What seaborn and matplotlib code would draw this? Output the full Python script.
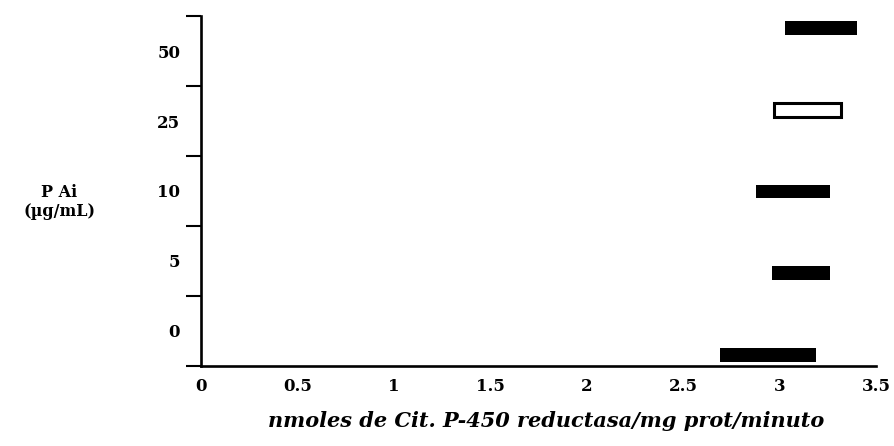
import numpy as np
import pandas as pd
import matplotlib
matplotlib.use("Agg")
import matplotlib.pyplot as plt
from matplotlib.ticker import MultipleLocator, FixedLocator
import seaborn as sns

# ---- data ----
doses = ["0", "5", "10", "25", "50"]          # P Ai (µg/mL)
range_start = [2.69, 2.96, 2.88, 2.97, 3.03]   # nmoles/mg prot/min
range_end = [3.19, 3.26, 3.26, 3.32, 3.40]
x_ticks = [0, 0.5, 1, 1.5, 2, 2.5, 3, 3.5]
x_tick_labels = ["0", "0.5", "1", "1.5", "2", "2.5", "3", "3.5"]
open_bar = "25"

df = pd.DataFrame({"dose": doses, "start": range_start, "end": range_end})
df["span"] = df["end"] - df["start"]

sns.set_style("white")
plt.rcParams["font.family"] = ["DejaVu Serif"]
plt.rcParams["font.weight"] = "bold"
for k in ["text.color", "axes.labelcolor", "xtick.color", "ytick.color"]:
    plt.rcParams[k] = "black"

fig = plt.figure(figsize=(8.94, 4.46), dpi=100)
ax = fig.add_axes([0.2248, 0.1794, 0.7551, 0.7847])

# label axis: five equal slots, labels at slot centres, ticks at slot boundaries
ax.set_ylim(0, 5)
ax.set_xlim(0, 3.5)
ax.yaxis.set_major_locator(FixedLocator(np.arange(len(doses)) + 0.5))
ax.set_yticklabels(doses)
ax.yaxis.set_minor_locator(FixedLocator(np.arange(len(doses) + 1)))
ax.tick_params(axis="y", which="major", length=0, pad=15, labelsize=12)
ax.tick_params(axis="y", which="minor", length=10.5, width=1.5, direction="out")

ax.set_xticks(x_ticks)
ax.set_xticklabels(x_tick_labels)
ax.xaxis.set_minor_locator(MultipleLocator(0.1))
ax.tick_params(axis="x", which="major", length=6.5, width=1.6, direction="out",
               pad=2, labelsize=12)
ax.tick_params(axis="x", which="minor", length=3.5, width=1.3, direction="out")

for s in ["top", "right"]:
    ax.spines[s].set_visible(False)
for s in ["left", "bottom"]:
    ax.spines[s].set_linewidth(1.9)
    ax.spines[s].set_color("black")

# bar axis
ax2 = ax.twinx()
sns.barplot(data=df, x="span", y="dose", left=df["start"].to_numpy(),
            orient="h", color="black", width=0.17, errorbar=None,
            saturation=1, linewidth=0, ax=ax2)
for patch, d in zip(ax2.patches, df["dose"]):
    if d == open_bar:
        patch.set_facecolor("white")
        patch.set_edgecolor("black")
        patch.set_linewidth(2.2)
ax2.set_ylim(-0.135, 4.146)
ax2.set_xlim(0, 3.5)
ax2.yaxis.set_visible(False)
for s in ax2.spines.values():
    s.set_visible(False)
ax2.set_xlabel("")
ax2.set_ylabel("")
ax.set_xlim(0, 3.5)

ax.set_ylabel("P Ai\n(µg/mL)", rotation=0, ha="center", va="center",
              fontsize=11.5, fontweight="bold", linespacing=1.2)
ax.yaxis.set_label_coords(-0.210, 0.469)
ax.set_xlabel("nmoles de Cit. P-450 reductasa/mg prot/minuto",
              fontsize=15, fontweight="bold", style="italic")
ax.xaxis.set_label_coords(0.511, -0.128)

fig.savefig("out.png", dpi=100)
